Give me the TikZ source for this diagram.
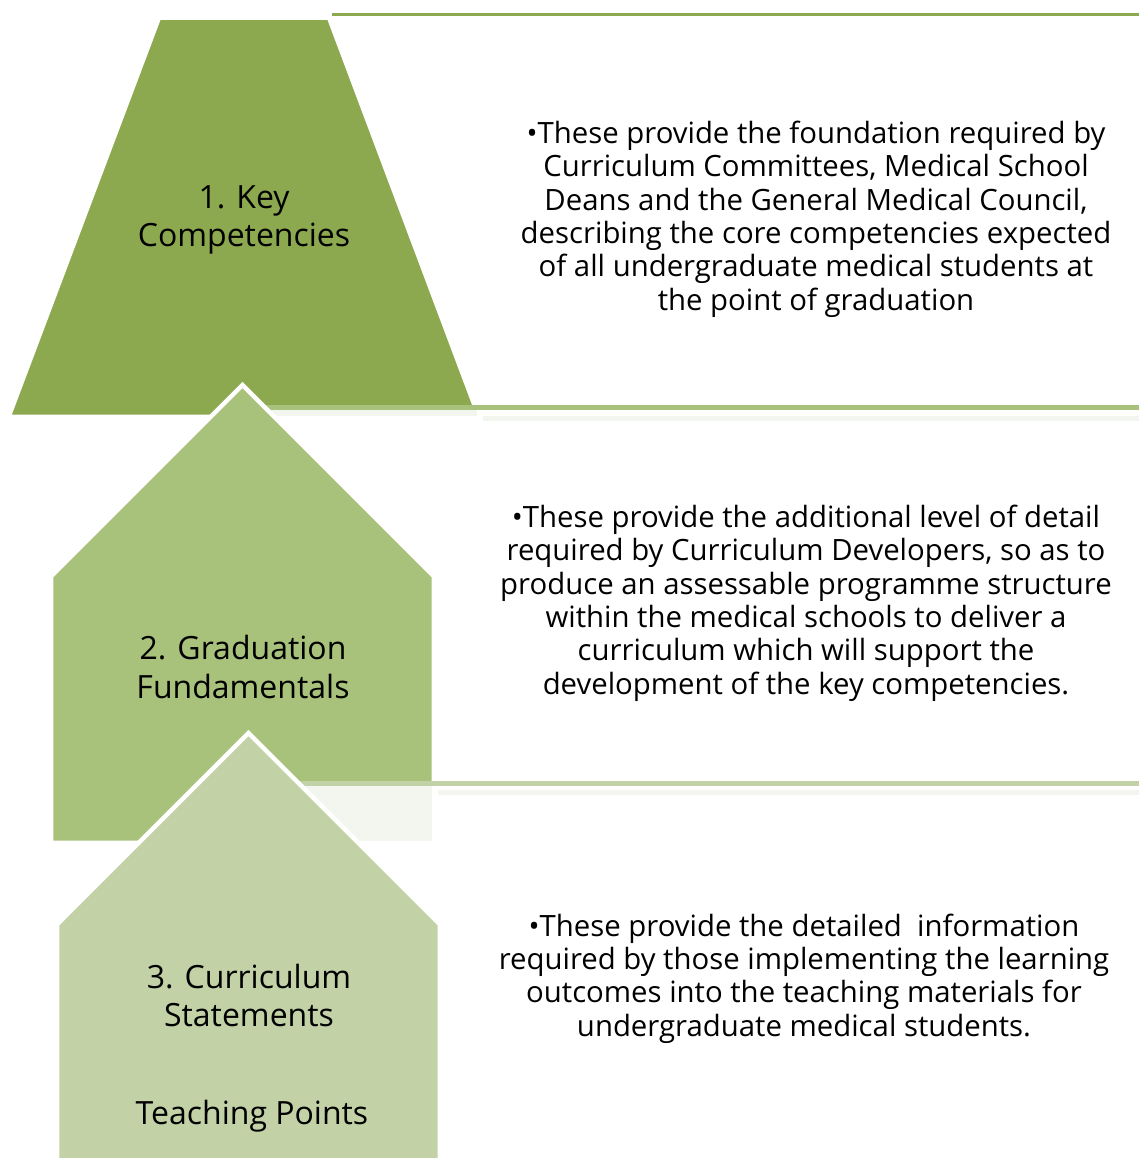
\documentclass[tikz,border=0pt]{standalone}
\usepackage{fontspec}
\setmainfont{Open Sans}
\begin{document}
\definecolor{greenA}{HTML}{8CA94F}
\definecolor{greenB}{HTML}{A8C17B}
\definecolor{greenC}{HTML}{C2D2A6}
\definecolor{paleband}{HTML}{F3F6EE}
\tikzset{
  tier/.style={line width=3.4pt, draw=white, line join=miter},
  title/.style={align=center, text=black, inner sep=0pt, font=\fontsize{24}{29}\selectfont},
  desc/.style={align=center, text=black, inner sep=0pt, font=\fontsize{22}{25}\selectfont},
}
\begin{tikzpicture}[x=0.75pt, y=-0.75pt]
  \useasboundingbox (0,0) rectangle (1139,1158);
  \clip (0,0) rectangle (1139,1158);

  % tier 1: trapezoid with rule along its top
  \fill[greenA] (332,12.7) rectangle (1139,15.7);
  \path[tier, fill=greenA] (159,17.5) -- (329,17.5) -- (479,417) -- (8.5,417) -- cycle;

  % rule and pale band under tier 1
  \fill[greenB] (250,405) rectangle (1139,410);
  \fill[paleband] (250,410) rectangle (477,415.5);
  \fill[paleband] (483,416) rectangle (1139,421);

  % tier 2: pentagon
  \path[tier, fill=greenB] (242.5,385) -- (434,576.5) -- (434,843) -- (51,843) -- (51,576.5) -- cycle;

  % rule and pale band under tier 2
  \fill[greenC] (290,781) rectangle (1139,786);
  \fill[paleband] (290,786) rectangle (432,841);
  \fill[paleband] (438,790) rectangle (1139,795);

  % tier 3: pentagon running off the bottom
  \path[tier, fill=greenC] (248.5,733) -- (440,924.5) -- (440,1175) -- (57,1175) -- (57,924.5) -- cycle;

  % tier titles
  \node[title] (t1) at (244,220) {1. Key\\Competencies};
  \node[title] (t2) at (243,667) {2. Graduation\\Fundamentals};
  \node[title] (t3) at (249,995.5) {3. Curriculum\\Statements};
  \node[title] (t4) at (252,1116) {Teaching Points};

  % descriptions
  \node[desc] (d1) at (816,219) {•These provide the foundation required by\\
    Curriculum Committees, Medical School\\
    Deans and the General Medical Council,\\
    describing the core competencies expected\\
    of all undergraduate medical students at\\
    the point of graduation};
  \node[desc] (d2) at (806,603) {•These provide the additional level of detail\\
    required by Curriculum Developers, so as to\\
    produce an assessable programme structure\\
    within the medical schools to deliver a\\
    curriculum which will support the\\
    development of the key competencies.};
  \node[desc] (d3) at (804,978.5) {•These provide the detailed\ \ information\\
    required by those implementing the learning\\
    outcomes into the teaching materials for\\
    undergraduate medical students.};
\end{tikzpicture}
\end{document}
